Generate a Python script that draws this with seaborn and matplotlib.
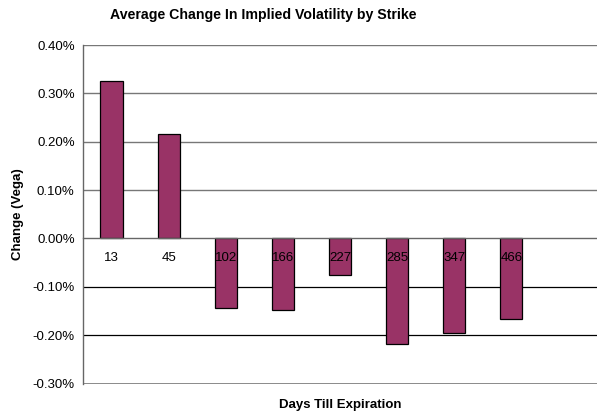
import numpy as np
import pandas as pd
import matplotlib
matplotlib.use("Agg")
import matplotlib.pyplot as plt
import seaborn as sns

# Data (values in percent)
days = ["13", "45", "102", "166", "227", "285", "347", "466", " "]
change = [0.326, 0.216, -0.143, -0.147, -0.076, -0.219, -0.196, -0.166, np.nan]

df = pd.DataFrame({"Days": days, "Change": change})

sns.set_style("white")
plt.rcParams['font.family'] = ['Liberation Sans', 'DejaVu Sans']
plt.rcParams['text.color'] = 'black'
plt.rcParams['xtick.labelcolor'] = 'black'
plt.rcParams['ytick.labelcolor'] = 'black'

fig = plt.figure(figsize=(5.97, 4.17), dpi=100)
ax = fig.add_axes([83 / 597, 1 - 383.5 / 417, 514 / 597, 338.5 / 417])

sns.barplot(data=df, x="Days", y="Change", order=days, color="#993366",
            saturation=1, width=0.39, edgecolor="black", linewidth=0.9,
            ax=ax, zorder=2)
ax.set_axisbelow(False)

ax.set_xlim(-0.5, len(days) - 0.5)
ax.set_ylim(-0.3, 0.4)
ax.set_yticks(np.arange(-0.3, 0.41, 0.1))
ax.set_yticklabels([f"{v:.2f}%" for v in np.arange(-0.3, 0.41, 0.1)], fontsize=9.5)

# gridlines: grey above zero, black below
for y in np.arange(-0.2, 0.41, 0.1):
    if abs(y) < 1e-9:
        continue
    ax.axhline(y, color="#777777" if y > 0 else "black", lw=1.0 if y > 0 else 0.9, zorder=0)
ax.axhline(-0.3, color="#777777", lw=1.2, zorder=0)

# category axis sits at zero
ax.spines['bottom'].set_position(('data', 0))
ax.spines['bottom'].set_color("#666666")
ax.spines['bottom'].set_linewidth(1.0)
ax.spines['bottom'].set_zorder(3)
ax.spines['left'].set_color("#666666")
ax.spines['left'].set_linewidth(1.0)
ax.spines['top'].set_visible(False)
ax.spines['right'].set_visible(False)

ax.set_xticks(range(len(days)))
ax.set_xticklabels(days, fontsize=9.5)
ax.set_xticks(np.arange(0.5, len(days) - 0.5, 1), minor=True)
ax.tick_params(axis='x', which='major', length=0, pad=9.5, labelcolor='black')
ax.tick_params(axis='x', which='minor', length=4, width=0.8, color="#444444", direction='out')
ax.tick_params(axis='y', length=4, width=0.8, color="#444444", direction='out', pad=2,
               labelcolor='black')

ax.set_xlabel("")
ax.set_ylabel("")
fig.text(18 / 597, 1 - 214 / 417, "Change (Vega)", rotation=90, ha='center', va='center',
         fontsize=9.5, fontweight='bold', color='black')
fig.text(340 / 597, 1 - 405 / 417, "Days Till Expiration", ha='center', va='center',
         fontsize=9.5, fontweight='bold', color='black')
fig.text(263 / 597, 1 - 15 / 417, "Average Change In Implied Volatility by Strike",
         ha='center', va='center', fontsize=10.2, fontweight='bold', color='black')

fig.savefig("out.png", dpi=100)
